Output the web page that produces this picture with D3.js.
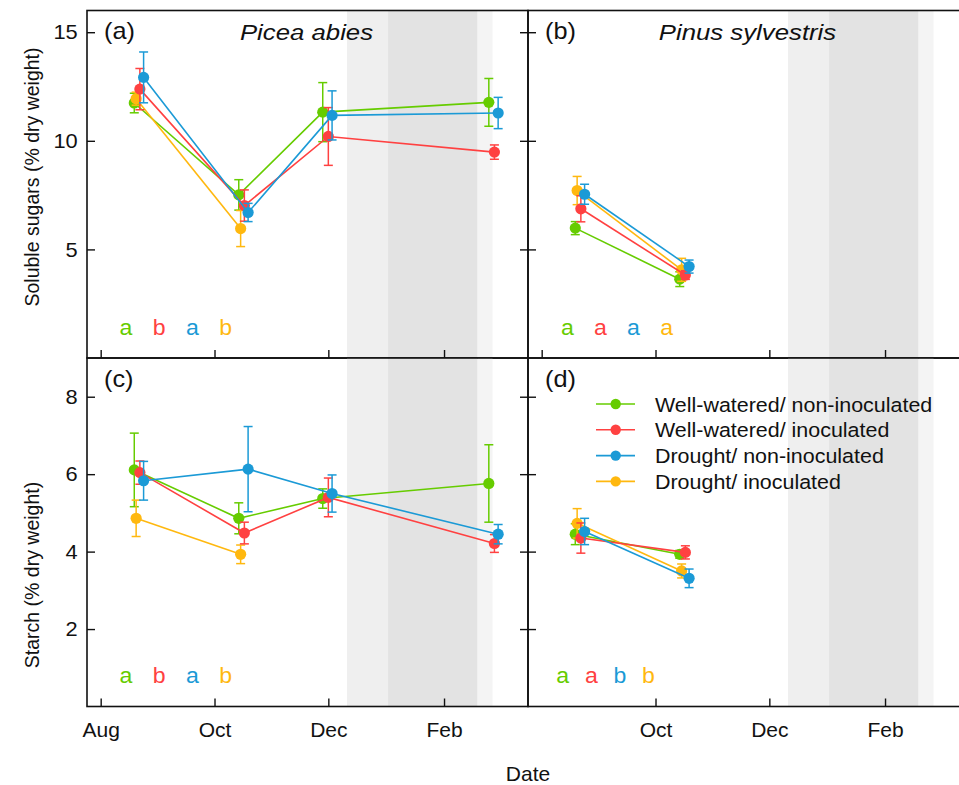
<!DOCTYPE html>
<html><head><meta charset="utf-8">
<script src="https://cdn.jsdelivr.net/npm/d3@7"></script>
<style>
body{margin:0;background:#fff;}
svg{display:block;font-family:"Liberation Sans",Arial,sans-serif;}
</style>
</head><body>
<svg id="chart" width="959" height="785"></svg>
<script>
// ---------- data ----------
const seriesNames = ["Well-watered/ non-inoculated","Well-watered/ inoculated","Drought/ non-inoculated","Drought/ inoculated"];
const seriesColors = ["#66CC00","#FF4141","#1B9AD6","#FFB80F"];
const drawOrder = [0,3,1,2];
const dodgeDays = [0,3,5,1];
const samplingDates = ["2017-08-19","2017-10-14","2017-11-28","2018-02-25"];
const xDomain = ["2017-07-24T16:00:00Z","2018-03-18T00:00:00Z"];
const monthTicks = ["2017-08-01","2017-10-01","2017-12-01","2018-02-01"];
const monthLabels = ["Aug","Oct","Dec","Feb"];
const bandDates = [["2017-12-11","2018-01-02"],["2018-01-02","2018-02-19"],["2018-02-19","2018-02-27"]];
const bandShades = ["#efefef","#e3e3e3","#f4f4f4"];

const sugarsYTicks = [5,10,15];
const starchYTicks = [2,4,6,8];

// soluble sugars, Picea abies
const sugarsPiceaMean = [[11.74,7.51,11.32,11.77],[12.38,7.02,10.20,9.48],[12.92,6.70,11.17,11.28],[11.94,5.96,null,null]];
const sugarsPiceaErr  = [[0.45,0.70,1.36,1.10],[0.95,0.72,1.33,0.33],[1.17,0.42,1.13,0.72],[0.30,0.83,null,null]];
// soluble sugars, Pinus sylvestris
const sugarsPinusMean = [[5.98,3.63],[6.87,3.82],[7.54,4.21],[7.71,4.06]];
const sugarsPinusErr  = [[0.30,0.34],[0.60,0.20],[0.46,0.30],[0.65,0.53]];
// starch, Picea abies
const starchPiceaMean = [[6.11,4.86,5.37,5.76],[6.04,4.48,5.40,4.21],[5.83,6.13,5.50,4.45],[4.86,3.93,null,null]];
const starchPiceaErr  = [[0.95,0.40,0.25,1.00],[0.30,0.28,0.50,0.23],[0.50,1.10,0.48,0.25],[0.47,0.24,null,null]];
// starch, Pinus sylvestris
const starchPinusMean = [[4.45,3.93],[4.35,3.98],[4.52,3.31],[4.73,3.50]];
const starchPinusErr  = [[0.27,0.10],[0.39,0.17],[0.34,0.24],[0.38,0.18]];

const lettersA = ["a","b","a","b"];
const lettersB = ["a","a","a","a"];
const lettersC = ["a","b","a","b"];
const lettersD = ["a","a","b","b"];

// ---------- layout ----------
const svg = d3.select("#chart");
const L = 87, MID = 528, PW = 441, TOP = 10.5, HM = 358, BOT = 706.5;
const parse = s => new Date(s.length === 10 ? s + "T00:00:00Z" : s);

const panels = [
  {tag:"(a)", title:"Picea abies", mean:sugarsPiceaMean, err:sugarsPiceaErr, letters:lettersA, x0:L, y0:TOP, y1:HM, yDom:[0,16], yTicks:sugarsYTicks, leftLabels:true, bottomLabels:false, xTickIdx:[0,1,2,3], letterStart:39, letterStep:33.2},
  {tag:"(b)", title:"Pinus sylvestris", mean:sugarsPinusMean, err:sugarsPinusErr, letters:lettersB, x0:MID, y0:TOP, y1:HM, yDom:[0,16], yTicks:sugarsYTicks, leftLabels:false, bottomLabels:false, xTickIdx:[0,1,2,3], letterStart:39.3, letterStep:33.1},
  {tag:"(c)", title:null, mean:starchPiceaMean, err:starchPiceaErr, letters:lettersC, x0:L, y0:HM, y1:BOT, yDom:[0,9], yTicks:starchYTicks, leftLabels:true, bottomLabels:true, xTickIdx:[0,1,2,3], letterStart:39, letterStep:33.2},
  {tag:"(d)", title:null, mean:starchPinusMean, err:starchPinusErr, letters:lettersD, x0:MID, y0:HM, y1:BOT, yDom:[0,9], yTicks:starchYTicks, leftLabels:false, bottomLabels:true, xTickIdx:[1,2,3], letterStart:34.7, letterStep:28.6}
];

function stext(g, x, y, s, o) {
  const t = g.append("text")
    .attr("transform", `translate(${x},${y}) scale(${o.sx||1.1},1)`)
    .attr("text-anchor", o.anchor || "start")
    .attr("font-size", o.size)
    .attr("fill", o.fill || "#111")
    .text(s);
  if (o.italic) t.attr("font-style", "italic");
  if (o.rotate) t.attr("transform", `translate(${x},${y}) rotate(${o.rotate}) scale(${o.sx||1.1},1)`);
  return t;
}

panels.forEach(p => {
  const g = svg.append("g");
  const x = d3.scaleUtc().domain(xDomain.map(parse)).range([p.x0, p.x0 + PW]);
  const y = d3.scaleLinear().domain(p.yDom).range([p.y1, p.y0]);

  // shaded periods
  g.selectAll("rect.band").data(bandDates).join("rect")
    .attr("x", d => x(parse(d[0])))
    .attr("width", d => x(parse(d[1])) - x(parse(d[0])))
    .attr("y", p.y0).attr("height", p.y1 - p.y0)
    .attr("fill", (d,i) => bandShades[i]);

  // axes (ticks pointing inward)
  const ticksX = p.xTickIdx.map(i => parse(monthTicks[i]));
  const ax = d3.axisBottom(x).tickValues(ticksX).tickSizeInner(-8).tickSizeOuter(0).tickPadding(16)
    .tickFormat(d => p.bottomLabels ? monthLabels[ticksX.map(Number).indexOf(+d) + (4 - p.xTickIdx.length)] : "");
  const gx = g.append("g").attr("transform", `translate(0,${p.y1})`).call(ax);
  const ayL = d3.axisLeft(y).tickValues(p.yTicks).tickSizeInner(-8).tickSizeOuter(0).tickPadding(9)
    .tickFormat(d => p.leftLabels ? d : "");
  const gyl = g.append("g").attr("transform", `translate(${p.x0},0)`).call(ayL);
  const ayR = d3.axisRight(y).tickValues(p.yTicks).tickSizeInner(-8).tickSizeOuter(0).tickFormat("");
  const gyr = g.append("g").attr("transform", `translate(${p.x0 + PW},0)`).call(ayR);
  [gx, gyl, gyr].forEach(a => {
    a.select(".domain").remove();
    a.selectAll("line").attr("stroke", "#111").attr("stroke-width", 1.4);
    a.selectAll("text").attr("font-size", 21).attr("fill", "#111")
      .attr("font-family", '"Liberation Sans",Arial,sans-serif');
  });
  gyl.selectAll("text").attr("transform", "scale(1.04,1)");

  // panel frame
  g.append("rect").attr("x", p.x0).attr("y", p.y0).attr("width", PW).attr("height", p.y1 - p.y0)
    .attr("fill", "none").attr("stroke", "#111").attr("stroke-width", 1.6);

  // data
  const line = d3.line().defined(d => d.v != null).x(d => x(d.t)).y(d => y(d.v));
  drawOrder.forEach(s => {
    const pts = p.mean[s].map((v, i) => ({
      v, e: p.err[s][i],
      t: d3.utcDay.offset(parse(samplingDates[i]), dodgeDays[s])
    })).filter(d => d.v != null);
    const c = seriesColors[s];
    g.append("path").datum(pts).attr("d", line).attr("fill", "none").attr("stroke", c).attr("stroke-width", 1.6);
    const eb = g.append("g");
    pts.forEach(d => {
      const cx = x(d.t), yt = y(d.v + d.e), yb = y(d.v - d.e);
      eb.append("line").attr("x1", cx).attr("x2", cx).attr("y1", yt).attr("y2", yb);
      eb.append("line").attr("x1", cx - 4.5).attr("x2", cx + 4.5).attr("y1", yt).attr("y2", yt);
      eb.append("line").attr("x1", cx - 4.5).attr("x2", cx + 4.5).attr("y1", yb).attr("y2", yb);
    });
    eb.selectAll("line").attr("stroke", c).attr("stroke-width", 1.5);
    g.selectAll(null).data(pts).join("circle")
      .attr("cx", d => x(d.t)).attr("cy", d => y(d.v)).attr("r", 5.6).attr("fill", c);
  });

  // significance letters
  p.letters.forEach((l, i) => {
    stext(g, p.x0 + p.letterStart + i * p.letterStep, p.y1 - 23.5, l, {size: 22, anchor: "middle", fill: seriesColors[i], sx: 1.05});
  });

  // panel tag and title
  stext(g, p.x0 + 17, p.y0 + 28.5, p.tag, {size: 23, sx: 1.1});
  if (p.title) stext(g, p.x0 + 219.5, p.y0 + 29, p.title, {size: 23, anchor: "middle", italic: true, sx: 1.12});
});

// legend (in panel d)
const lg = svg.append("g");
seriesNames.forEach((n, i) => {
  const cy = 404 + i * 25.8;
  lg.append("line").attr("x1", 596).attr("x2", 635).attr("y1", cy).attr("y2", cy)
    .attr("stroke", seriesColors[i]).attr("stroke-width", 1.6);
  lg.append("circle").attr("cx", 615.7).attr("cy", cy).attr("r", 5.2).attr("fill", seriesColors[i]);
  stext(lg, 655, cy + 7.5, n, {size: 19.5, sx: 1.1});
});

// axis titles
stext(svg, 39, 177, "Soluble sugars (% dry weight)", {size: 19.5, anchor: "middle", rotate: -90, sx: 1.0});
stext(svg, 39, 575, "Starch (% dry weight)", {size: 19.5, anchor: "middle", rotate: -90, sx: 1.0});
stext(svg, MID, 781, "Date", {size: 21, anchor: "middle", sx: 1.0});
</script>
</body></html>
